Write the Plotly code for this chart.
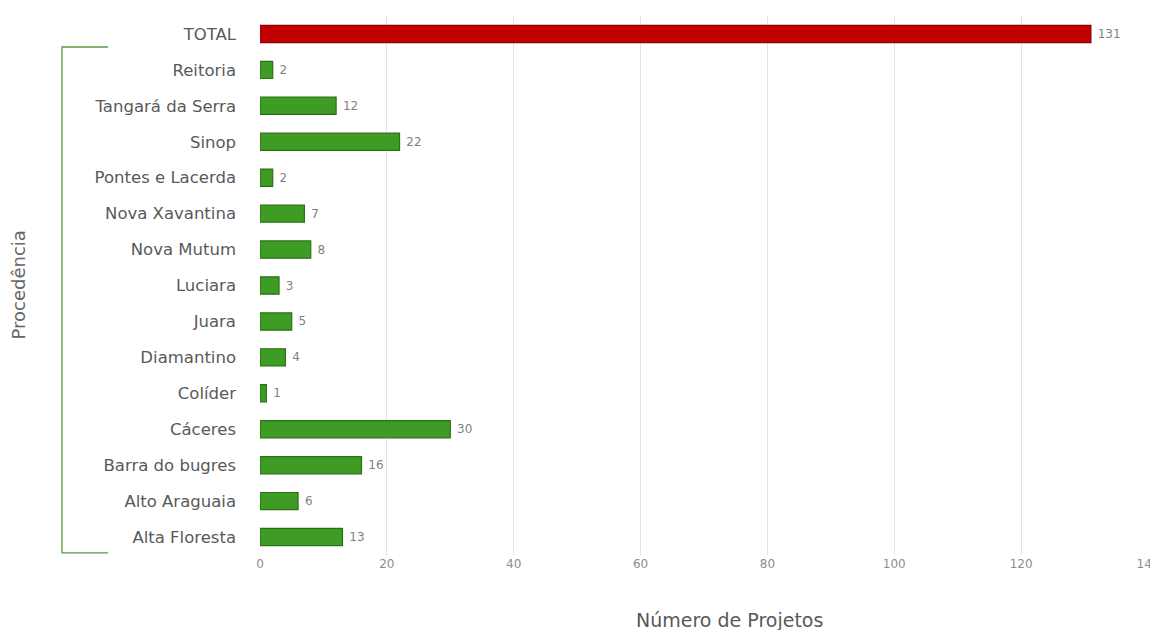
import plotly.graph_objects as go

categories = ["TOTAL", "Reitoria", "Tangará da Serra", "Sinop", "Pontes e Lacerda",
              "Nova Xavantina", "Nova Mutum", "Luciara", "Juara", "Diamantino",
              "Colíder", "Cáceres", "Barra do bugres", "Alto Araguaia", "Alta Floresta"]
values = [131, 2, 12, 22, 2, 7, 8, 3, 5, 4, 1, 30, 16, 6, 13]
tick_vals = [0, 20, 40, 60, 80, 100, 120, 140]

colors = ["#C00000" if c == "TOTAL" else "#3E9B23" for c in categories]
edges = ["#8E0000" if c == "TOTAL" else "#2B6F16" for c in categories]

FONT = "DejaVu Sans, Open Sans, sans-serif"

fig = go.Figure(go.Bar(
    x=values, y=categories, orientation="h",
    marker=dict(color=colors, line=dict(color=edges, width=1.2)),
    text=[" " + str(v) for v in values], textposition="outside",
    textfont=dict(family=FONT, size=12, color="#7F7F7F"),
    cliponaxis=False, width=0.48,
))

fig.update_layout(
    width=1150, height=622,
    margin=dict(l=252, r=10, t=8, b=75, autoexpand=False),
    paper_bgcolor="white", plot_bgcolor="white",
    showlegend=False,
    font=dict(family=FONT, color="#595959"),
    xaxis=dict(range=[0, 140], tickvals=tick_vals, showgrid=True,
               gridcolor="#E4E4E4", gridwidth=1, zeroline=False, automargin=False,
               ticklabeloverflow="allow",
               tickfont=dict(size=12, color="#8C8C8C"), ticks="", showline=False),
    yaxis=dict(categoryorder="array", categoryarray=categories, autorange="reversed",
               tickfont=dict(size=16.5, color="#595959"), ticks="", showline=False,
               ticklabelstandoff=23, automargin=False),
    shapes=[dict(type="path", xref="paper", yref="paper",
                 path="M -0.171 0.9425 L -0.223 0.9425 L -0.223 0.004 L -0.171 0.004",
                 line=dict(color="#5B9A3C", width=1.3))],
    annotations=[
        dict(text="Procedência", xref="paper", yref="paper", x=-0.2725, y=0.5,
             textangle=-90, showarrow=False, font=dict(size=18, color="#666666"),
             xanchor="center", yanchor="middle"),
        dict(text="Número de Projetos", xref="paper", yref="paper", x=0.529, y=-0.1206,
             showarrow=False, font=dict(size=19, color="#595959"),
             xanchor="center", yanchor="middle"),
    ],
)

fig.write_html("out.html")
